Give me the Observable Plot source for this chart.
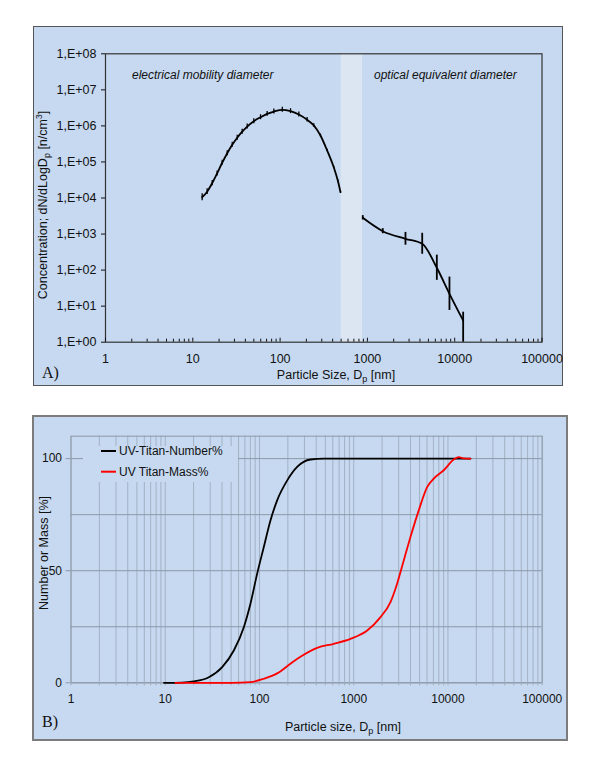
<!DOCTYPE html>
<html>
<head>
<meta charset="utf-8">
<script src="https://cdn.jsdelivr.net/npm/d3@7"></script>
<script src="https://cdn.jsdelivr.net/npm/@observablehq/plot@0.6"></script>
<style>
  body { margin: 0; background: #fff; }
  #page { position: relative; width: 600px; height: 763px; overflow: hidden; font-family: "Liberation Sans", Arial, sans-serif; }
  .panel { position: absolute; box-sizing: border-box; background: #c6d9f0; }
  .chart { position: absolute; }
  #overlay { position: absolute; left: 0; top: 0; }
</style>
</head>
<body>
<div id="page">
  <div class="panel" style="left:33px;top:26px;width:530px;height:360px;border:1.5px solid #555;"></div>
  <div class="panel" style="left:32px;top:415px;width:536px;height:326px;border:2px solid #7c7c7c;"></div>
  <div class="chart" id="chartA" style="left:33px;top:26px;"></div>
  <div class="chart" id="chartB" style="left:32px;top:415px;"></div>
</div>
<script>
// ---------- Panel A data ----------
const xTicksA = [1, 10, 100, 1000, 10000, 100000];
const xLabelsA = ["1", "10", "100", "1000", "10000", "100000"];
const yTicksA = [1, 10, 100, 1e3, 1e4, 1e5, 1e6, 1e7, 1e8];
const yLabelsA = ["1,E+00", "1,E+01", "1,E+02", "1,E+03", "1,E+04", "1,E+05", "1,E+06", "1,E+07", "1,E+08"];
const gapBandA = [500, 880];   // nm, gap between the two instruments

// electrical mobility (SMPS) part
const smpsD = [12.8, 14.6, 16.7, 19.0, 21.7, 24.8, 28.3, 32.3, 36.8, 42, 50, 59.7, 71, 84.8, 106, 131.6, 164, 204, 243, 290, 346, 412, 458, 492];
const smpsV = [1.05e4, 1.5e4, 2.6e4, 4.8e4, 9.5e4, 1.75e5, 3.0e5, 4.7e5, 6.9e5, 9.6e5, 1.35e6, 1.74e6, 2.16e6, 2.5e6, 2.8e6, 2.56e6, 2.07e6, 1.48e6, 1.03e6, 5.4e5, 2.08e5, 7.1e4, 3.06e4, 1.45e4];
const smpsRelErr = [0.25, 0.2, 0.18, 0.17, 0.17, 0.17, 0.17, 0.17, 0.17, 0.17, 0.17, 0.17, 0.17, 0.17, 0.17, 0.17, 0.17, 0.15, 0.12, 0.1, 0.08, 0.06, 0.05, 0.05];

// optical equivalent (OPC) part
const opcD = [885, 1500, 2730, 4245, 6240, 8710, 12500];
const opcV = [2820, 1200, 738, 537, 116, 22, 4.0];
const opcLo = [2450, 1020, 490, 275, 52, 7.6, 1];
const opcHi = [3250, 1410, 1110, 1050, 260, 64, 6.8];

// ---------- Panel B data ----------
const xTicksB = [1, 10, 100, 1000, 10000, 100000];
const xLabelsB = ["1", "10", "100", "1000", "10000", "100000"];
const yTicksB = [0, 50, 100];
const yGridB = [0, 25, 50, 75, 100];
const numD = [9.7, 15, 20.1, 29, 40.2, 53.4, 68.2, 80.2, 94.5, 111, 131, 154, 197, 251, 347, 480, 1000, 5000, 17300];
const numV = [0, 0.1, 0.6, 2.5, 7, 14.4, 24.8, 35.3, 48.7, 60.5, 72.5, 81.4, 90.3, 96.3, 99.6, 100, 100, 100, 100];
const massD = [12.8, 50, 80, 111, 154, 213, 272, 409, 614, 924, 1390, 1923, 2455, 2886, 3396, 4000, 4898, 6010, 7070, 9020, 11530, 13030, 14700, 17300];
const massV = [0, 0, 0.3, 1.8, 4.2, 8.5, 11.6, 15.6, 17.4, 19.6, 23.3, 29.3, 36, 44.2, 54.6, 65, 76.9, 87.3, 91.1, 94.8, 99.6, 100.7, 100.1, 100];
const seriesNames = ["UV-Titan-Number%", "UV Titan-Mass%"];
const seriesColors = ["#000000", "#ff0000"];

// ---------- derived tables ----------
const minorLog = [];
for (let k = 0; k < 5; k++) for (let m = 2; m <= 9; m++) minorLog.push(m * Math.pow(10, k));
const smps = smpsD.map((d, i) => ({d, v: smpsV[i], lo: smpsV[i] / (1 + smpsRelErr[i]), hi: smpsV[i] * (1 + smpsRelErr[i])}));
const opc = opcD.map((d, i) => ({d, v: opcV[i], lo: opcLo[i], hi: opcHi[i]}));
const numData = numD.map((d, i) => ({d, v: numV[i]}));
const massData = massD.map((d, i) => ({d, v: massV[i]}));
const gridB = [...xTicksB, ...minorLog];

const fontStyle = {background: "transparent", fontFamily: "'Liberation Sans', Arial, sans-serif", color: "#111", overflow: "visible"};

// ---------- Plot A ----------
const plotA = Plot.plot({
  width: 530, height: 360,
  marginLeft: 72, marginRight: 21.5, marginTop: 27.3, marginBottom: 44.3,
  style: {...fontStyle, fontSize: "12px"},
  x: {type: "log", domain: [1, 1e5]},
  y: {type: "log", domain: [1, 1e8]},
  marks: [
    Plot.rect([gapBandA], {x1: d => d[0], x2: d => d[1], fill: "#dce6f2"}),
    Plot.frame({stroke: "#333", strokeWidth: 1.2}),
    Plot.axisY({ticks: yTicksA, tickFormat: d => yLabelsA[yTicksA.indexOf(d)], tickSize: 4, tickPadding: 5, label: null, fontSize: 12.5}),
    Plot.axisX({ticks: xTicksA, tickFormat: d => xLabelsA[xTicksA.indexOf(d)], tickSize: 0, tickPadding: 12, label: null, fontSize: 12.5}),
    Plot.axisX({ticks: xTicksA, tickFormat: () => "", tickSize: 4, dy: -4, label: null}),
    Plot.axisX({ticks: minorLog, tickFormat: () => "", tickSize: 3, dy: -3, label: null}),
    Plot.ruleX(smps, {x: "d", y1: "lo", y2: "hi", stroke: "#000", strokeWidth: 1.3}),
    Plot.line(smps, {x: "d", y: "v", stroke: "#000", strokeWidth: 1.8, curve: "monotone-x"}),
    Plot.ruleX(opc, {x: "d", y1: "lo", y2: "hi", stroke: "#000", strokeWidth: 1.8}),
    Plot.line(opc, {x: "d", y: "v", stroke: "#000", strokeWidth: 1.8, curve: "monotone-x"})
  ]
});
document.getElementById("chartA").append(plotA);

// ---------- Plot B ----------
const plotB = Plot.plot({
  width: 536, height: 326,
  marginLeft: 38.5, marginRight: 26.3, marginTop: 20.7, marginBottom: 58.7,
  style: {...fontStyle, fontSize: "11px"},
  x: {type: "log", domain: [1, 1e5]},
  y: {domain: [0, 110]},
  marks: [
    Plot.ruleX(gridB, {stroke: "#9fadbf", strokeWidth: 0.9}),
    Plot.ruleY(yGridB, {stroke: "#8d99a8", strokeWidth: 1}),
    Plot.frame({stroke: "#8d99a8", strokeWidth: 1}),
    Plot.axisY({ticks: yTicksB, tickSize: 5, tickPadding: 4, label: null, fontSize: 12, stroke: "#8d99a8"}),
    Plot.axisX({ticks: gridB, tickFormat: () => "", tickSize: 3, label: null, stroke: "#9fadbf"}),
    Plot.axisX({ticks: xTicksB, tickFormat: d => xLabelsB[xTicksB.indexOf(d)], tickSize: 0, tickPadding: 12, label: null, fontSize: 12}),
    Plot.line(numData, {x: "d", y: "v", stroke: seriesColors[0], strokeWidth: 1.8, curve: "monotone-x"}),
    Plot.line(massData, {x: "d", y: "v", stroke: seriesColors[1], strokeWidth: 1.8, curve: "monotone-x"})
  ]
});
document.getElementById("chartB").append(plotB);

// ---------- overlay: titles, annotations, legend ----------
const svg = d3.select("#page").append("svg").attr("id", "overlay")
  .attr("width", 600).attr("height", 763)
  .style("font-family", "'Liberation Sans', Arial, sans-serif");

// Panel A y title
const ta = svg.append("text").attr("transform", "translate(47,205) rotate(-90)")
  .attr("text-anchor", "middle").attr("font-size", 12.5).attr("fill", "#111");
ta.append("tspan").text("Concentration; dN/dLogD");
ta.append("tspan").attr("font-size", 9).attr("dy", 3).text("p");
ta.append("tspan").attr("dy", -3).text(" [n/cm");
ta.append("tspan").attr("font-size", 8.5).attr("dy", -5).text("3");
ta.append("tspan").attr("dy", 5).text("]");

// Panel A x title
const xa = svg.append("text").attr("x", 336).attr("y", 379).attr("text-anchor", "middle").attr("font-size", 12.5).attr("fill", "#111");
xa.append("tspan").text("Particle Size, D");
xa.append("tspan").attr("font-size", 9).attr("dy", 3).text("p");
xa.append("tspan").attr("dy", -3).text(" [nm]");

svg.append("text").attr("x", 42).attr("y", 378).attr("font-family", "'Liberation Serif', 'Times New Roman', serif")
  .attr("font-size", 16).attr("fill", "#111").text("A)");

svg.append("text").attr("x", 132).attr("y", 79).attr("font-size", 12).attr("font-style", "italic").attr("fill", "#111").text("electrical mobility diameter");
svg.append("text").attr("x", 374).attr("y", 79).attr("font-size", 12).attr("font-style", "italic").attr("fill", "#111").text("optical equivalent diameter");

// Panel B y title
svg.append("text").attr("transform", "translate(48,553) rotate(-90)")
  .attr("text-anchor", "middle").attr("font-size", 12.5).attr("fill", "#111").text("Number or Mass [%]");

// Panel B x title
const xb = svg.append("text").attr("x", 343).attr("y", 731).attr("text-anchor", "middle").attr("font-size", 12.5).attr("fill", "#111");
xb.append("tspan").text("Particle size, D");
xb.append("tspan").attr("font-size", 9).attr("dy", 3).text("p");
xb.append("tspan").attr("dy", -3).text(" [nm]");

svg.append("text").attr("x", 42).attr("y", 727).attr("font-family", "'Liberation Serif', 'Times New Roman', serif")
  .attr("font-size", 16).attr("fill", "#111").text("B)");

// Legend for panel B
svg.append("rect").attr("x", 83).attr("y", 446).attr("width", 155).attr("height", 36).attr("fill", "#c6d9f0");
seriesNames.forEach((name, i) => {
  const y = 451 + i * 20.7;
  svg.append("line").attr("x1", 101).attr("x2", 116).attr("y1", y).attr("y2", y)
    .attr("stroke", seriesColors[i]).attr("stroke-width", 2);
  svg.append("text").attr("x", 119).attr("y", y + 4.3).attr("font-size", 12).attr("fill", "#111").text(name);
});
</script>
</body>
</html>
